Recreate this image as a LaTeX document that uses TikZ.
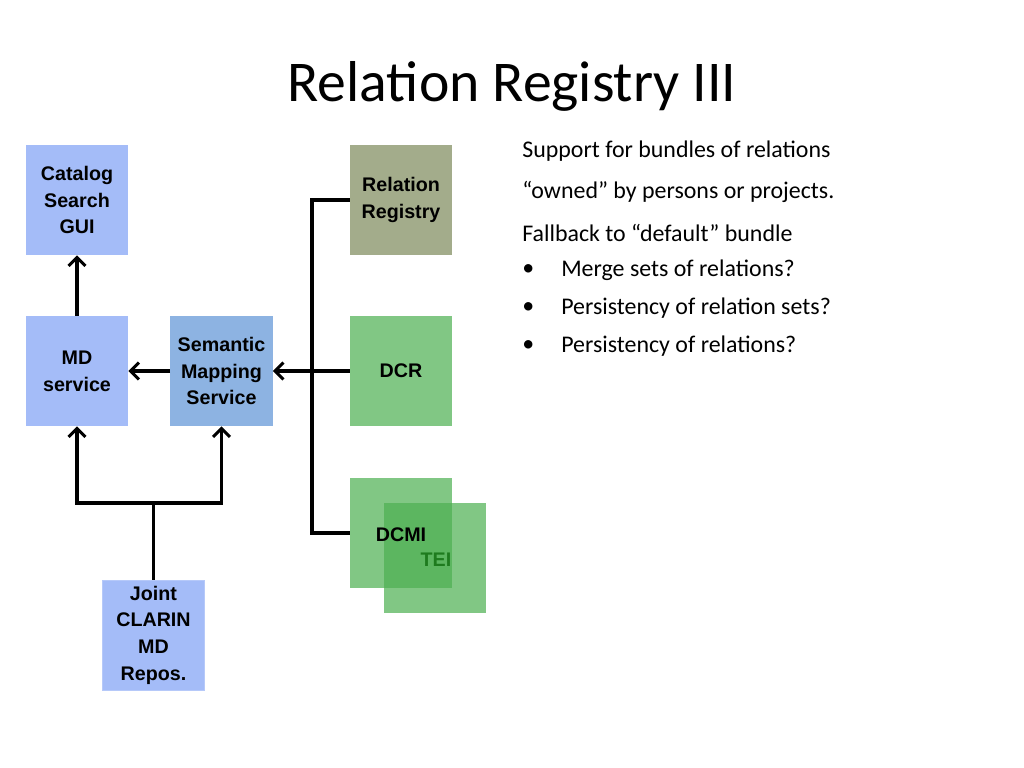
\documentclass[tikz,border=0pt]{standalone}
\usepackage{fontspec}
\setmainfont{Carlito}
\newfontfamily\boxfont{Liberation Sans}
\usetikzlibrary{positioning, arrows.meta}
\definecolor{bluebox}{HTML}{A4BCF8}
\definecolor{semblue}{HTML}{8DB3E2}
\definecolor{regolive}{HTML}{A3AC8B}
\definecolor{greenbox}{HTML}{4CAF50}
\definecolor{teigreen}{HTML}{1E7B1E}
\begin{document}
\begin{tikzpicture}[x=0.025cm, y=-0.025cm,
  box/.style={minimum width=2.55cm, minimum height=2.75cm, inner sep=0pt,
    align=center, font=\boxfont\bfseries\fontsize{14}{19}\selectfont},
  gbox/.style={box, fill=greenbox, fill opacity=0.7, text opacity=1},
  conn/.style={line width=2.2pt},
  arr/.style={conn, -{Straight Barb[length=6pt,width=12pt]}},
  txt/.style={anchor=west, inner sep=0pt, font=\fontsize{17}{20}\selectfont}]
  \useasboundingbox (0,0) rectangle (1024,768);
  \node[font=\fontsize{41}{48}\selectfont] (title) at (512,86) {Relation Registry III};

  \node[box, fill=bluebox] (cat) at (77,200) {Catalog\\Search\\GUI};
  \node[box, fill=regolive] (reg) at (401,200) {Relation\\Registry};
  \node[box, fill=bluebox] (md) at (77,371) {MD\\service};
  \node[box, fill=semblue] (sms) at (221.5,371) {Semantic\\Mapping\\Service};
  \node[gbox] (dcr) at (401,371) {DCR};
  \node[gbox] (dcmi) at (401,533) {};
  \node[gbox] (tei) at (435,558) {};
  \node[font=\boxfont\bfseries\fontsize{14}{19}\selectfont] (dcmit) at (401,535) {DCMI};
  \node[font=\boxfont\bfseries\fontsize{14}{19}\selectfont, text=teigreen] (teit) at (436,560) {TEI};
  \node[box, fill=bluebox, draw=bluebox!80!white] (joint) at (153.5,635) {Joint\\CLARIN\\MD\\Repos.};

  % bus to the registries
  \coordinate (bus1) at (312,200);
  \coordinate (bus2) at (312,533);
  \coordinate (split) at (153.5,503);
  \draw[conn] (reg.west) -- (bus1) -- (bus2) -- (dcmi.west);
  \draw[arr] (dcr) -- (sms);
  \draw[arr] (sms) -- (md);
  \draw[arr] (md) -- (cat);
  \draw[conn] (joint.north) -- (split);
  \draw[arr] (split) -| (md.south);
  \draw[arr] (split) -| (sms.south);

  \node[txt] (t1) at (522,151) {Support for bundles of relations};
  \node[txt] (t2) at (522,192) {“owned” by persons or projects.};
  \node[txt] (t3) at (522,233) {Fallback to “default” bundle};
  \foreach \y/\s [count=\i] in {270/Merge sets of relations?,
      308/Persistency of relation sets?, 346/Persistency of relations?} {
    \node[txt] (b\i) at (522,\y) {•};
    \node[txt] (l\i) at (561,\y) {\s};
  }
\end{tikzpicture}
\end{document}
